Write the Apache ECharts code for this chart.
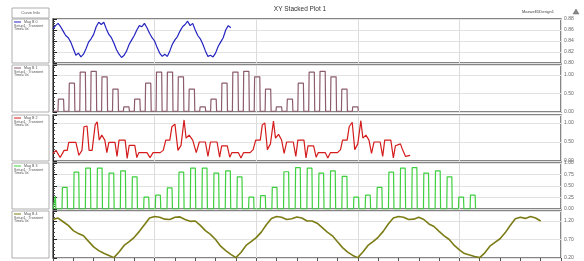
<!DOCTYPE html>
<html>
<head>
<meta charset="utf-8">
<script src="https://cdn.jsdelivr.net/npm/echarts@6/dist/echarts.min.js"></script>
<style>
  html, body { margin: 0; padding: 0; background: #fff; }
  #chart { width: 584px; height: 261px; }
</style>
</head>
<body>
<div id="chart"></div>
<script>
// ---- data ----
const curveNames = ['Mag B 0', 'Mag B 1', 'Mag B 2', 'Mag B 3', 'Mag B 4'];
const curveColors = ['#2323c0', '#8c5c6c', '#d41c1c', '#3ed03e', '#7c7c16'];

// Mag B 0 : sampled every 0.5 time units from 0
const blueStep = 0.5;
const blueValues = [
  0.862, 0.868, 0.872, 0.866, 0.858, 0.850, 0.846, 0.838, 0.826, 0.814,
  0.818, 0.811, 0.816, 0.826, 0.838, 0.844, 0.852, 0.866, 0.874, 0.870,
  0.874, 0.862, 0.852, 0.846, 0.836, 0.824, 0.816, 0.810, 0.814, 0.822,
  0.834, 0.842, 0.850, 0.860, 0.868, 0.866, 0.872, 0.864, 0.854, 0.846,
  0.840, 0.828, 0.818, 0.812, 0.816, 0.812, 0.822, 0.834, 0.842, 0.848,
  0.858, 0.866, 0.870, 0.876, 0.868, 0.872, 0.860, 0.850, 0.844, 0.834,
  0.822, 0.812, 0.814, 0.811, 0.818, 0.830, 0.838, 0.846, 0.860, 0.868,
  0.864
];

// Mag B 1 : rectangular pulses
const purpleStart = 0.98, purplePeriod = 2.146, purpleWidth = 1.18, purpleBase = 0.02;
const purpleHeights = [
  0.35, 0.78, 1.08, 1.10, 0.95, 0.62, 0.14,
  0.35, 0.78, 1.08, 1.08, 0.95, 0.62, 0.14,
  0.35, 0.78, 1.08, 1.10, 0.95, 0.62, 0.14,
  0.35, 0.78, 1.08, 1.10, 0.95, 0.62, 0.14
];

// Mag B 2 : [time, value]
const redTimes = [
  0, 0.6, 1.4, 2.2, 2.8, 3.1, 4.5, 5.1, 5.7, 6.1, 6.7, 7.1, 7.7, 8.3, 8.7, 9.1, 9.6, 10.2, 10.6, 11.0,
  12.2, 12.6, 13.0, 14.2, 14.6, 15.0, 16.1, 16.5, 16.9, 18.5, 19.1, 19.7, 21.1, 21.7, 22.2, 23.0, 23.4, 24.0, 24.6, 25.2,
  25.8, 26.2, 26.8, 27.5, 28.2, 28.8, 30.0, 30.5, 31.0, 32.3, 32.8, 33.2, 34.3, 34.8, 35.2, 36.5, 37.0, 37.5, 38.8, 39.4,
  39.9, 40.8, 41.2, 41.7, 42.2, 42.8, 43.4, 43.8, 44.4, 45.0, 45.5, 46.0, 47.3, 47.8, 48.2, 49.4, 49.8, 50.2, 51.3, 51.8,
  52.2, 53.6, 54.1, 54.6, 56.0, 56.6, 57.0, 57.9, 58.3, 58.9, 59.4, 60.0, 60.6, 61.0, 61.6, 62.2, 62.7, 63.2, 64.4, 64.9,
  65.3, 66.5, 67.0, 67.4, 68.4, 68.8, 69.4, 70.3
];
const redValues = [
  0.20, 0.28, 0.09, 0.28, 0.28, 0.49, 0.49, 0.15, 0.28, 0.90, 0.92, 0.28, 0.28, 0.95, 1.03, 0.55, 0.68, 0.55, 0.22, 0.49,
  0.49, 0.12, 0.55, 0.55, 0.07, 0.41, 0.41, 0.09, 0.22, 0.22, 0.09, 0.22, 0.22, 0.28, 0.55, 0.55, 0.90, 0.97, 0.28, 0.41,
  1.08, 0.60, 0.68, 0.55, 0.22, 0.50, 0.50, 0.12, 0.50, 0.50, 0.10, 0.40, 0.40, 0.10, 0.22, 0.22, 0.08, 0.22, 0.22, 0.30,
  0.55, 0.55, 0.95, 1.00, 0.30, 0.45, 1.05, 0.60, 0.70, 0.55, 0.20, 0.50, 0.50, 0.12, 0.55, 0.55, 0.08, 0.40, 0.40, 0.10,
  0.22, 0.22, 0.08, 0.22, 0.22, 0.30, 0.55, 0.55, 0.90, 1.02, 0.30, 0.45, 1.06, 0.60, 0.68, 0.55, 0.20, 0.50, 0.50, 0.12,
  0.55, 0.55, 0.08, 0.40, 0.45, 0.30, 0.12, 0.15
];

// Mag B 3 : rectangular pulses (first one starts before t = 0)
const greenStart = -0.52, greenPeriod = 2.295, greenWidth = 1.08, greenBase = 0.0;
const greenHeights = [
  0.28, 0.47, 0.80, 0.89, 0.89, 0.78, 0.83, 0.70, 0.26,
  0.30, 0.46, 0.80, 0.89, 0.89, 0.78, 0.83, 0.70, 0.26,
  0.29, 0.47, 0.81, 0.90, 0.89, 0.78, 0.83, 0.71, 0.26,
  0.30, 0.47, 0.80, 0.89, 0.90, 0.78, 0.83, 0.70, 0.26,
  0.30
];

// Mag B 4 : sampled every 1 time unit from 0
const oliveStep = 1;
const oliveValues = [
  1.24, 1.28, 1.18, 1.08, 0.94, 0.86, 0.80, 0.65, 0.50, 0.40, 0.33, 0.27, 0.21,
  0.36, 0.54, 0.64, 0.76, 0.92, 1.10, 1.28, 1.32, 1.30, 1.25, 1.24, 1.30, 1.31, 1.24, 1.19, 1.20, 1.08, 0.94, 0.84, 0.70, 0.52, 0.40, 0.30, 0.21,
  0.35, 0.54, 0.64, 0.75, 0.90, 1.10, 1.27, 1.32, 1.30, 1.24, 1.26, 1.31, 1.28, 1.20, 1.20, 1.14, 1.02, 0.90, 0.80, 0.64, 0.48, 0.36, 0.27, 0.21,
  0.36, 0.54, 0.64, 0.76, 0.92, 1.12, 1.28, 1.32, 1.30, 1.24, 1.25, 1.30, 1.24, 1.12, 1.05, 0.92, 0.80, 0.70, 0.54, 0.42, 0.32, 0.28, 0.24, 0.21,
  0.34, 0.52, 0.62, 0.72, 0.88, 1.08, 1.26, 1.30, 1.27, 1.32, 1.28, 1.20
];

// right-hand axes
const yMins = [0.80, 0, 0, 0, 0.20];
const yMaxs = [0.88, 1.27, 1.21, 1.00, 1.47];
const yIntervals = [0.02, 0.5, 0.5, 0.25, 0.5];

// ---- layout ----
const plotLeft = 53, plotWidth = 508;
const tops = [19, 65, 115, 163, 211];
const heights = [44, 47, 46, 46, 47];

function sampled(values, step) {
  return values.map((v, i) => [i * step, v]);
}
function pulses(start, period, width, base, hs) {
  const out = [[0, base]];
  hs.forEach((h, k) => {
    const s = start + k * period;
    out.push([s, base], [s + 0.08, h], [s + width - 0.08, h], [s + width, base]);
  });
  return out;
}

const seriesData = [
  sampled(blueValues, blueStep),
  pulses(purpleStart, purplePeriod, purpleWidth, purpleBase, purpleHeights),
  redTimes.map((t, i) => [t, redValues[i]]),
  pulses(greenStart, greenPeriod, greenWidth, greenBase, greenHeights).filter(p => p[0] >= 0),
  sampled(oliveValues, oliveStep)
];

const grids = [], xAxes = [], yAxes = [], series = [];
for (let i = 0; i < 5; i++) {
  grids.push({
    left: plotLeft, width: plotWidth, top: tops[i], height: heights[i],
    show: true, borderColor: '#5e5e5e', borderWidth: 1.5, backgroundColor: '#fff'
  });
  const last = i === 4;
  xAxes.push({
    type: 'value', gridIndex: i, min: 0, max: 100, interval: 20,
    axisLine: { show: false },
    axisLabel: { show: false },
    axisTick: { show: last, length: 3, lineStyle: { color: '#555' } },
    minorTick: { show: last, splitNumber: 5, length: 3, lineStyle: { color: '#555' } },
    splitLine: { show: true, lineStyle: { color: '#dcdcdc', width: 1 } }
  });
  yAxes.push({
    type: 'value', gridIndex: i, position: 'right',
    min: yMins[i], max: yMaxs[i], interval: yIntervals[i],
    axisLine: { show: true, lineStyle: { color: '#222', width: 1 } },
    axisTick: { show: true, length: 4, lineStyle: { color: '#222' } },
    minorTick: { show: true, splitNumber: 5, length: 2, lineStyle: { color: '#444' } },
    axisLabel: {
      fontSize: 5, color: '#666', margin: 3, fontFamily: 'Liberation Sans',
      showMaxLabel: i === 0 || i === 3,
      formatter: v => v.toFixed(2)
    },
    splitLine: { show: true, lineStyle: { color: '#e2e2e2', width: 1 } }
  });
  series.push({
    type: 'line', xAxisIndex: i, yAxisIndex: i,
    data: seriesData[i], showSymbol: false, animation: false,
    lineStyle: { color: curveColors[i], width: i === 4 ? 1.6 : 1.2 }
  });
}

// legend column on the left
const graphics = [
  { type: 'rect', shape: { x: 12, y: 8, width: 37, height: 10 },
    style: { fill: '#fff', stroke: '#9a9a9a', lineWidth: 0.8 } },
  { type: 'text', x: 30.5, y: 13, style: { text: 'Curve Info', fontSize: 4, fill: '#555',
    align: 'center', verticalAlign: 'middle', fontFamily: 'Liberation Sans' } },
  { type: 'text', x: 300, y: 9, style: { text: 'XY Stacked Plot 1', fontSize: 6.5, fill: '#333',
    align: 'center', verticalAlign: 'middle', fontFamily: 'Liberation Sans' } },
  { type: 'text', x: 554, y: 12, style: { text: 'MaxwellDDesign1', fontSize: 4, fill: '#444',
    align: 'right', verticalAlign: 'middle', fontFamily: 'Liberation Sans' } },
  { type: 'polygon', shape: { points: [[573, 14], [576, 9], [579, 14]] },
    style: { fill: '#888', stroke: '#666', lineWidth: 0.5 } }
];
for (let i = 0; i < 5; i++) {
  const y0 = tops[i];
  graphics.push(
    { type: 'rect', shape: { x: 12, y: y0, width: 37, height: heights[i] },
      style: { fill: '#fff', stroke: '#9a9a9a', lineWidth: 0.8 } },
    { type: 'line', shape: { x1: 14, y1: y0 + 3, x2: 21, y2: y0 + 3 },
      style: { stroke: curveColors[i], lineWidth: 1 } },
    { type: 'text', x: 24, y: y0 + 3, style: { text: curveNames[i], fontSize: 3.6, fill: '#555',
      verticalAlign: 'middle', fontFamily: 'Liberation Sans' } },
    { type: 'text', x: 14, y: y0 + 6.5, style: { text: 'Setup1 : Transient', fontSize: 3.6, fill: '#555',
      verticalAlign: 'middle', fontFamily: 'Liberation Sans' } },
    { type: 'text', x: 14, y: y0 + 10, style: { text: "Time='0s'", fontSize: 3.6, fill: '#555',
      verticalAlign: 'middle', fontFamily: 'Liberation Sans' } }
  );
}

const chart = echarts.init(document.getElementById('chart'), null, { renderer: 'canvas' });
chart.setOption({
  animation: false,
  backgroundColor: '#fff',
  grid: grids,
  xAxis: xAxes,
  yAxis: yAxes,
  series: series,
  graphic: graphics
});
</script>
</body>
</html>
